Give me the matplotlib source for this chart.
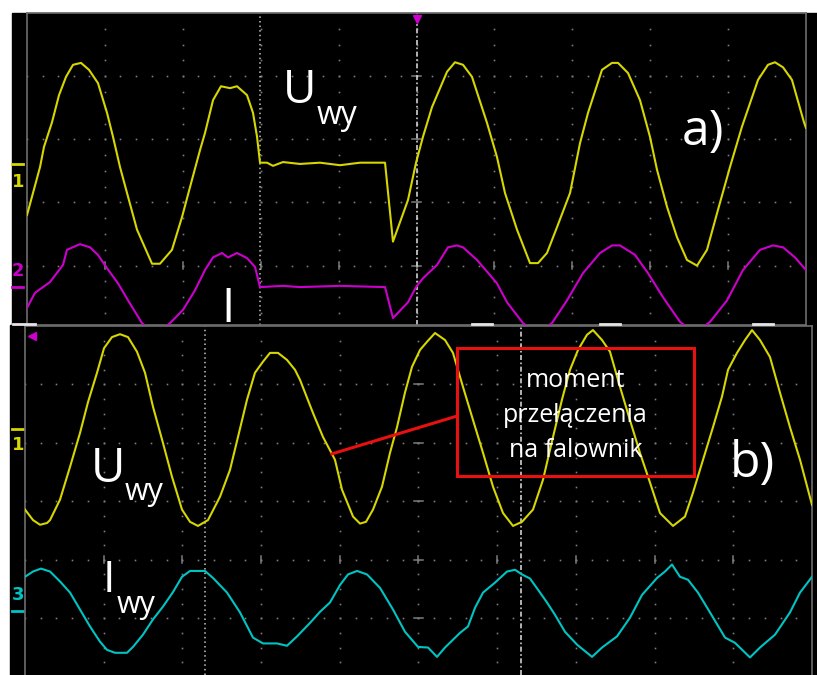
import numpy as np
import matplotlib.pyplot as plt
from matplotlib.patches import Rectangle
from matplotlib.lines import Line2D

# ---- oscillogram a): voltage and current, supply loss (time in ms, values in div) ----
t_a_u = [0, 1.67, 2.18, 3.21, 4.11, 5.01, 5.91, 6.93, 7.96, 9.11, 10.27, 11.04, 11.94, 12.84,
         14.12, 16.05, 17.07, 18.61, 19.90, 21.18, 22.21, 22.85, 23.88, 24.90, 26.06, 26.96,
         28.24, 29.01, 29.53, 29.91, 30.81, 31.58, 32.86, 35.04, 37.61, 40.18, 42.75, 45.96,
         46.98, 48.91, 49.94, 50.83, 51.99, 53.92, 54.94, 55.97, 57.12, 59.05, 60.33, 61.36,
         62.90, 64.57, 65.60, 66.75, 68.04, 69.71, 70.99, 72.02, 73.81, 75.10, 75.87, 77.15,
         78.69, 79.97, 80.87, 82.16, 83.44, 84.72, 86.01, 87.29, 88.58, 90.24, 91.78, 93.84,
         95.12, 96.02, 97.05, 98.20, 99.74, 100]
u_a = [-0.81, -0.05, 0.27, 0.66, 1.09, 1.38, 1.57, 1.60, 1.49, 1.28, 0.81, 0.43, -0.05, -0.46,
       -1.04, -1.58, -1.58, -1.36, -0.84, -0.25, 0.22, 0.49, 1.01, 1.23, 1.20, 1.23,
       1.09, 0.81, 0.43, 0.02, 0.02, -0.03, 0.03, 0.00, 0.02, -0.02, 0.02, 0.02,
       -1.23, -0.57, 0.02, 0.43, 0.90, 1.46, 1.61, 1.57, 1.38, 0.65, 0.11, -0.46,
       -1.04, -1.57, -1.57, -1.41, -1.00, -0.46, 0.33, 0.81, 1.49, 1.60, 1.60, 1.44,
       1.01, 0.43, -0.09, -0.68, -1.16, -1.52, -1.61, -1.36, -0.78, -0.05, 0.59, 1.33,
       1.57, 1.61, 1.53, 1.33, 0.66, 0.57]

t_a_i = [0, 1.03, 2.95, 4.62, 5.13, 6.80, 8.09, 9.11, 10.27, 11.68, 12.97, 14.76, 16.56, 18.36,
         20.03, 21.57, 22.85, 23.88, 25.03, 25.80, 26.96, 28.24, 29.27, 29.91, 32.86, 35.04,
         40.18, 45.96, 46.98, 48.91, 49.94, 50.83, 52.63, 54.04, 55.20, 55.97, 57.77, 60.33,
         61.62, 63.67, 65.47, 67.39, 69.32, 71.37, 73.56, 75.10, 76.12, 78.05, 79.72, 81.64,
         83.83, 85.75, 87.68, 89.86, 91.91, 94.09, 95.76, 97.05, 98.59, 100]
i_a = [-0.33, -0.09, 0.08, 0.35, 0.59, 0.68, 0.63, 0.51, 0.30, 0.06, -0.21, -0.57, -0.74, -0.57,
       -0.36, -0.05, 0.27, 0.47, 0.54, 0.47, 0.54, 0.46, 0.32, 0.00, 0.02, 0.00,
       0.02, 0.00, -0.49, -0.24, 0.00, 0.14, 0.35, 0.63, 0.66, 0.63, 0.43, 0.06,
       -0.24, -0.57, -0.73, -0.57, -0.21, 0.22, 0.54, 0.66, 0.66, 0.51, 0.22, -0.16,
       -0.55, -0.73, -0.55, -0.21, 0.27, 0.59, 0.66, 0.63, 0.47, 0.27]

# ---- oscillogram b): voltage and current, switch-over to the inverter ----
t_b_u = [0, 1.02, 1.91, 2.80, 3.18, 4.45, 5.72, 6.99, 8.01, 9.15, 10.04, 11.05, 12.07, 13.09,
         14.23, 15.25, 16.26, 17.53, 18.68, 19.95, 20.97, 21.98, 23.25, 24.78, 26.05, 27.06,
         28.21, 29.22, 30.24, 31.13, 32.15, 33.29, 34.31, 34.94, 36.60, 37.87, 39.01, 39.39,
         40.28, 41.68, 42.57, 43.33, 44.22, 45.36, 46.38, 47.27, 48.28, 49.17, 50.19, 51.08,
         52.10, 53.37, 54.38, 55.65, 56.93, 58.20, 59.47, 60.74, 62.01, 63.15, 64.55, 65.82,
         67.09, 68.23, 69.25, 70.27, 71.41, 72.17, 73.32, 74.33, 75.60, 76.87, 78.14, 79.42,
         80.69, 82.34, 83.86, 84.88, 86.15, 87.42, 88.56, 89.33, 90.47, 91.49, 92.38, 93.39,
         94.66, 95.93, 97.20, 98.48, 100]
u_b = [-1.38, -1.56, -1.64, -1.61, -1.56, -1.21, -0.65, -0.07, 0.46, 0.96, 1.38, 1.57, 1.62, 1.57,
       1.32, 0.96, 0.38, -0.24, -0.82, -1.38, -1.59, -1.66, -1.56, -1.16, -0.70, -0.14,
       0.50, 0.96, 1.15, 1.30, 1.30, 1.18, 1.01, 0.84, 0.27, -0.14, -0.43, -0.53,
       -1.04, -1.50, -1.62, -1.59, -1.38, -0.99, -0.41, 0.03, 0.62, 1.06, 1.35, 1.49,
       1.64, 1.52, 1.30, 0.72, 0.15, -0.41, -0.99, -1.44, -1.66, -1.59, -1.38, -0.87,
       -0.14, 0.50, 1.01, 1.35, 1.61, 1.69, 1.52, 1.32, 0.72, 0.15, -0.41, -0.92,
       -1.44, -1.66, -1.50, -1.09, -0.53, 0.03, 0.55, 1.01, 1.30, 1.52, 1.69, 1.52,
       1.23, 0.62, 0.03, -0.53, -1.30]

t_b_i = [0, 1.02, 2.03, 3.18, 4.45, 5.72, 6.99, 8.26, 9.53, 10.42, 11.44, 12.96, 13.72, 14.99,
         16.26, 17.53, 18.81, 19.95, 20.97, 22.87, 23.89, 25.67, 27.32, 28.97, 30.24, 32.02,
         33.29, 34.56, 36.21, 37.48, 38.75, 40.03, 41.04, 42.19, 43.46, 45.11, 46.76, 48.28,
         49.94, 51.21, 52.35, 53.37, 55.27, 56.29, 57.18, 58.20, 59.72, 61.25, 62.26, 63.15,
         64.17, 65.18, 66.33, 67.34, 68.61, 70.14, 72.05, 73.32, 75.22, 76.87, 78.40, 80.31,
         81.32, 82.21, 83.23, 84.24, 85.51, 87.04, 88.95, 90.22, 92.12, 93.39, 95.30, 97.20,
         98.48, 100]
i_b = [0.58, 0.67, 0.72, 0.67, 0.50, 0.31, 0.02, -0.27, -0.53, -0.67, -0.72, -0.72, -0.62, -0.41,
       -0.15, 0.07, 0.32, 0.58, 0.68, 0.68, 0.56, 0.31, -0.03, -0.46, -0.56, -0.56,
       -0.60, -0.44, -0.21, -0.02, 0.14, 0.44, 0.62, 0.68, 0.62, 0.39, 0.02, -0.36,
       -0.62, -0.63, -0.79, -0.63, -0.38, -0.27, 0.05, 0.31, 0.48, 0.67, 0.70, 0.62,
       0.55, 0.36, 0.14, -0.07, -0.36, -0.58, -0.79, -0.63, -0.44, -0.12, 0.27, 0.56,
       0.67, 0.79, 0.58, 0.53, 0.31, -0.03, -0.46, -0.55, -0.80, -0.63, -0.41, -0.03,
       0.31, 0.58]

t_switch = 39.0   # ms, moment of switching to the inverter

YEL = '#d6d600'
MAG = '#cc00cc'
CYA = '#00c4c4'
GRID = '#7c7c7c'
FONT = ['Open Sans', 'DejaVu Sans']

W, H = 817, 675
fig = plt.figure(figsize=(W / 100, H / 100), dpi=100)
fig.patch.set_facecolor('white')


def px_box(x0, y0, x1, y1):
    return [x0 / W, 1 - y1 / H, (x1 - x0) / W, (y1 - y0) / H]


# black scope screens
fig.add_artist(Rectangle((12 / W, 1 - 325 / H), (W - 12) / W, 312 / H,
                         transform=fig.transFigure, color='black', zorder=-5))
fig.add_artist(Rectangle((10 / W, 0), (W - 10) / W, 350 / H,
                         transform=fig.transFigure, color='black', zorder=-5))


def scope_axes(box, ylo):
    ax = fig.add_axes(box)
    ax.set_facecolor('black')
    ax.set_xlim(0, 100)
    ax.set_ylim(ylo, 4)
    ax.set_xticks([])
    ax.set_yticks([])
    for s in ax.spines.values():
        s.set_color('#6e6e6e')
        s.set_linewidth(1.2)
    # dotted graticule
    ys = np.arange(np.ceil(ylo * 4) / 4, 4, 0.25)
    for k in range(1, 10):
        ax.plot(np.full_like(ys, 10 * k), ys, ls='none', marker='s', ms=1.2,
                mec='none', color=GRID, zorder=1)
    xs = np.arange(0, 100, 2)
    for r in range(int(np.ceil(ylo)), 4):
        ax.plot(xs, np.full_like(xs, r, dtype=float), ls='none', marker='s', ms=1.2,
                mec='none', color=GRID, zorder=1)
    # centre row / column tick marks
    for k in range(1, 10):
        ax.plot([10 * k, 10 * k], [-0.06, 0.06], color=GRID, lw=1.1, zorder=1)
    for r in range(int(np.ceil(ylo)), 4):
        ax.plot([49.4, 50.6], [r, r], color=GRID, lw=1.1, zorder=1)
    return ax


def cursors(ax, t_dot, t_trig):
    ax.axvline(t_dot, color='#c4c4c4', lw=1.1, ls=(0, (1, 2)), zorder=2)
    ax.axvline(t_trig, color='#d0d0d0', lw=1.2, ls=(0, (3, 1.5, 1, 1.5)), zorder=2)


def channel_mark(ax, off, label, color, below, x_lab):
    ax.plot([x_lab - 0.75, x_lab + 0.65], [off, off], color=color, lw=2, clip_on=False)
    dy = -0.28 if below else 0.26
    ax.text(x_lab, off + dy, label, color=color, fontsize=13, fontweight='bold',
            ha='center', va='center', family='DejaVu Sans')


def label(ax, x, y, s, size):
    ax.text(x, y, s, color='white', fontsize=size, family=FONT, va='baseline',
            ha='left', zorder=6)


# ================= a) =================
ax_a = scope_axes(px_box(27, 13, 806, 325), -0.94)
off1a, off2a = 1.61, -0.34
cursors(ax_a, 29.9, 50.0)
ax_a.plot(t_a_u, np.array(u_a) + off1a, color=YEL, lw=1.5, zorder=4)
ax_a.plot(t_a_i, np.array(i_a) + off2a, color=MAG, lw=1.5, zorder=4)
ax_a.plot([50.0], [3.9], marker='v', ms=6, color=MAG, clip_on=False, zorder=5)
channel_mark(ax_a, off1a, '1', YEL, True, -1.15)
channel_mark(ax_a, off2a, '2', MAG, False, -1.15)

label(ax_a, 32.9, 2.58, 'U', 33)
label(ax_a, 37.2, 2.24, 'wy', 23)
label(ax_a, 24.9, -0.89, 'I', 34)
label(ax_a, 84.1, 1.91, 'a)', 36)

# ================= b) =================
ax_b = scope_axes(px_box(25, 326, 812, 675), -1.97)
ax_b.spines['bottom'].set_visible(False)
off1b, off3b = 2.24, -0.87
cursors(ax_b, 22.9, 63.0)
ax_b.plot(t_b_u, np.array(u_b) + off1b, color=YEL, lw=1.5, zorder=4)
ax_b.plot(t_b_i, np.array(i_b) + off3b, color=CYA, lw=1.5, zorder=4)
ax_b.plot([0.9], [3.83], marker='<', ms=6, color=MAG, clip_on=False, zorder=5)
channel_mark(ax_b, off1b, '1', YEL, True, -0.9)
channel_mark(ax_b, off3b, '3', CYA, False, -0.9)

label(ax_b, 8.4, 1.33, 'U', 34)
label(ax_b, 12.7, 1.03, 'wy', 22)
label(ax_b, 9.8, -0.55, 'I', 32)
label(ax_b, 11.6, -0.91, 'wy', 22)
label(ax_b, 89.6, 1.42, 'b)', 36)

# annotation: switching moment
u_sw = np.interp(t_switch, t_b_u, u_b) + off1b
ax_b.add_patch(Rectangle((54.9, 1.44), 30.1, 2.18, fill=False, ec='#e81010', lw=2.2, zorder=5))
ax_b.plot([t_switch, 54.9], [u_sw, 2.46], color='#e81010', lw=2.2, zorder=5)
for y, s in zip([2.96, 2.36, 1.76], ['moment', 'przełączenia', 'na falownik']):
    ax_b.text(69.95, y, s, color='white', fontsize=18, family=FONT, ha='center',
              va='baseline', zorder=6)

# small marker bars on the screen border
for x0, x1 in [(13, 35), (472, 492), (600, 620), (753, 773)]:
    fig.add_artist(Line2D([x0 / W, x1 / W], [1 - 324 / H] * 2, color='#e6e6e6', lw=2.0,
                          transform=fig.transFigure, zorder=10))

fig.savefig('out.png', dpi=100, facecolor=fig.get_facecolor())
